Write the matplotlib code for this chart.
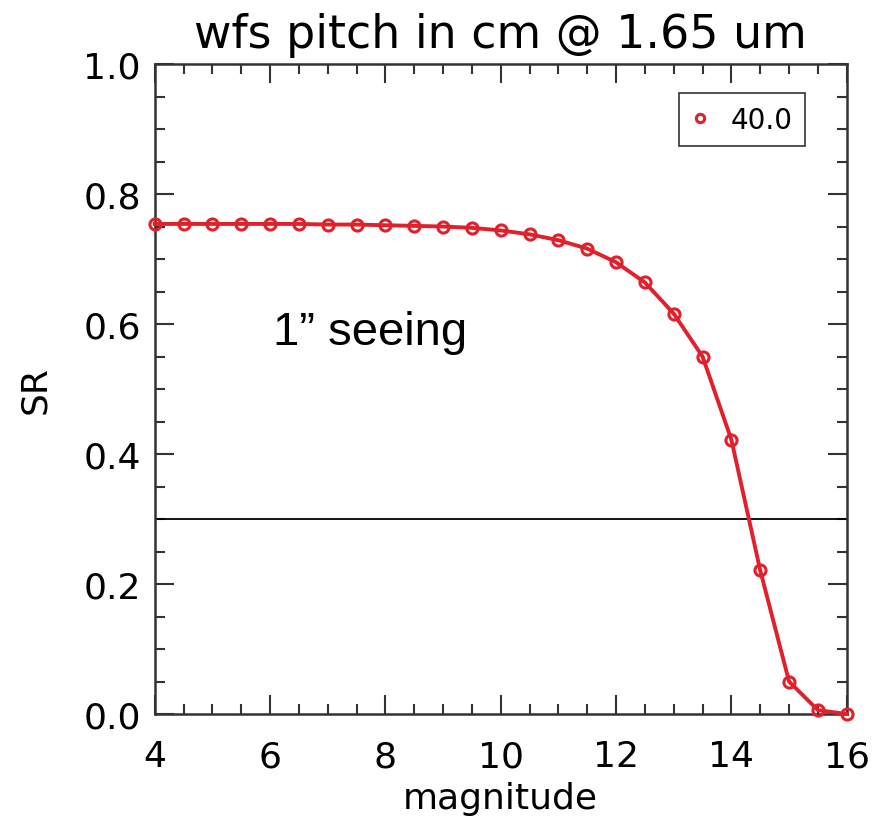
import numpy as np
import matplotlib.pyplot as plt
from matplotlib.ticker import MultipleLocator

## Data
magnitude = [4.0, 4.5, 5.0, 5.5, 6.0, 6.5, 7.0, 7.5, 8.0, 8.5, 9.0, 9.5, 10.0,
             10.5, 11.0, 11.5, 12.0, 12.5, 13.0, 13.5, 14.0, 14.5, 15.0, 15.5, 16.0]
sr = [0.754, 0.754, 0.754, 0.754, 0.754, 0.754, 0.753, 0.753, 0.752, 0.751, 0.750,
      0.748, 0.744, 0.738, 0.729, 0.716, 0.695, 0.664, 0.616, 0.550, 0.422, 0.221,
      0.050, 0.006, 0.0]
threshold = 0.3
series_label = '40.0'

red = '#e0202a'

fig = plt.figure(figsize=(8.87, 8.2), dpi=100)
ax = fig.add_axes([0.1744, 0.128, 0.7802, 0.7927])

ax.plot(magnitude, sr, color=red, lw=2.8, marker='o', ms=8, mfc='none', mew=2.2,
        label=series_label, clip_on=False, zorder=3)
ax.axhline(threshold, color='black', lw=1.3)

ax.set_xlim(4, 16)
ax.set_ylim(0, 1.0)
ax.xaxis.set_major_locator(MultipleLocator(2))
ax.xaxis.set_minor_locator(MultipleLocator(0.5))
ax.yaxis.set_major_locator(MultipleLocator(0.2))
ax.yaxis.set_minor_locator(MultipleLocator(0.05))
ax.yaxis.set_major_formatter(plt.FormatStrFormatter('%.1f'))
ax.tick_params(which='both', direction='in', top=True, right=True, width=1.5, color='#333333')
ax.tick_params(which='major', length=14, labelsize=26)
ax.tick_params(axis='x', which='major', pad=18)
ax.tick_params(axis='y', which='major', pad=10)
ax.tick_params(which='minor', length=7)
for s in ax.spines.values():
    s.set_linewidth(1.8)
    s.set_color('#333333')

ax.set_title('wfs pitch in cm @ 1.65 um', fontsize=33, pad=12)
ax.set_xlabel('magnitude', fontsize=26, labelpad=6)
ax.set_ylabel('SR', fontsize=26, labelpad=22)

ax.text(7.74, 0.588, '1\u201d seeing', fontsize=34, family='Liberation Sans', ha='center', va='center')

leg = ax.legend(loc='upper right', bbox_to_anchor=(0.94, 0.955), fontsize=20, frameon=True,
                fancybox=False, edgecolor='black', handlelength=0.6, markerscale=0.75,
                borderpad=0.45, handletextpad=0.8, borderaxespad=0)
leg.get_frame().set_linewidth(1.2)
for h in leg.get_lines():
    h.set_linestyle('none')

fig.savefig('out.png', dpi=100)
